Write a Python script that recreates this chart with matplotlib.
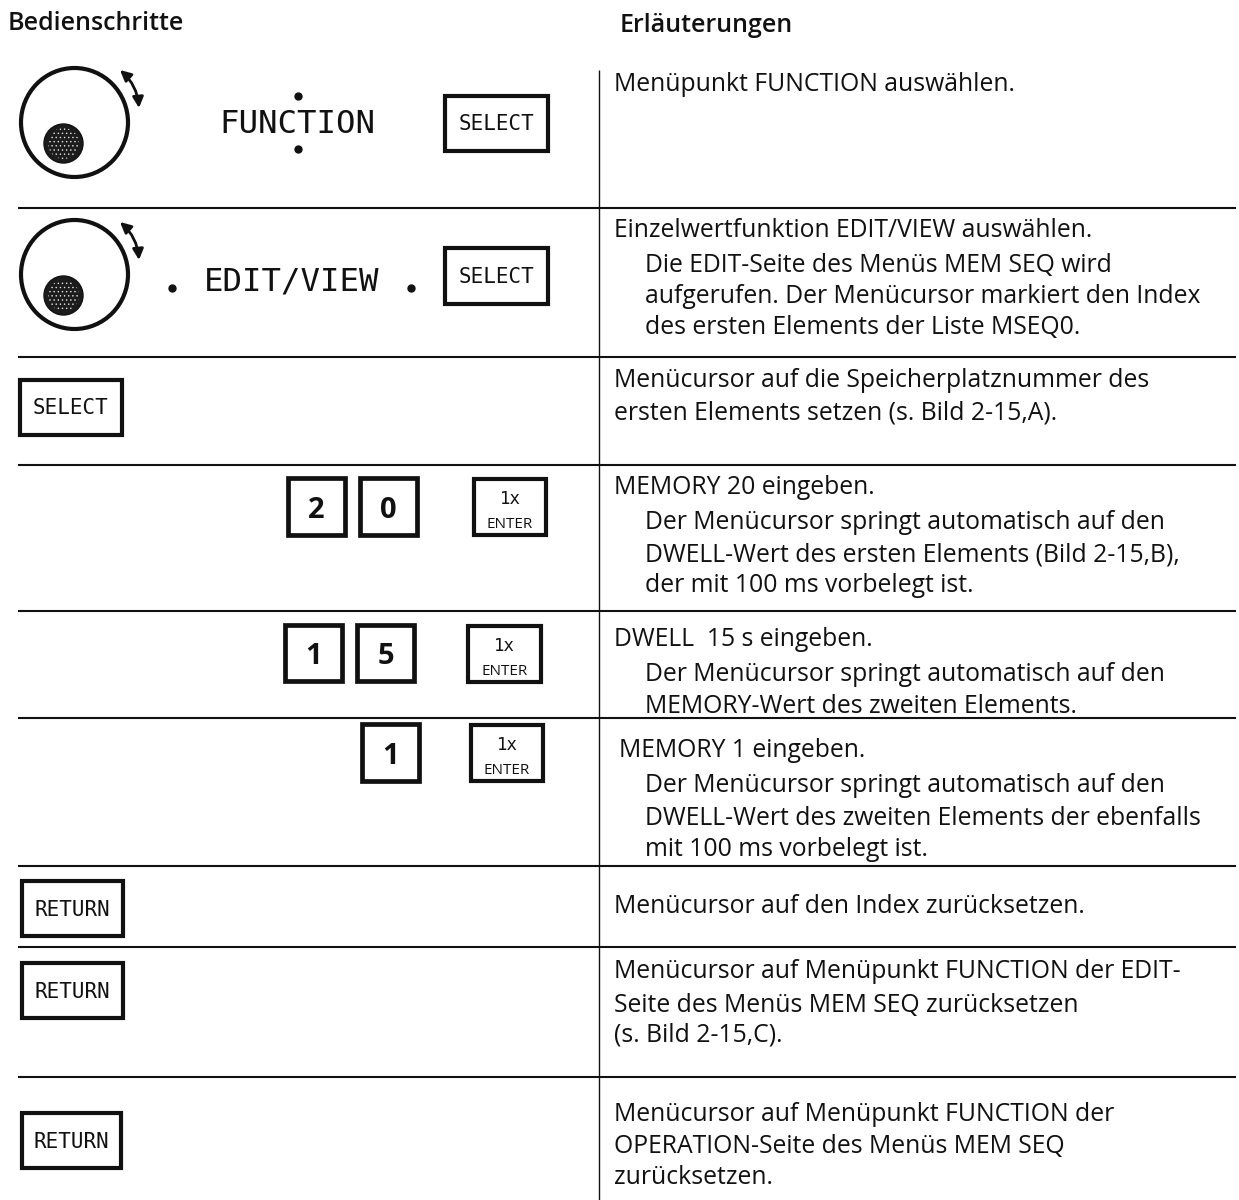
import matplotlib
matplotlib.use("Agg")
import matplotlib.pyplot as plt
from matplotlib.patches import Ellipse, Rectangle

# --- content ---
headers = ["Bedienschritte", "Erläuterungen"]
display_words = ["FUNCTION", "EDIT/VIEW"]
explain_lines = [
    "Menüpunkt FUNCTION auswählen.",
    "Einzelwertfunktion EDIT/VIEW auswählen.",
    "Die EDIT-Seite des Menüs MEM SEQ wird",
    "aufgerufen. Der Menücursor markiert den Index",
    "des ersten Elements der Liste MSEQ0.",
    "Menücursor auf die Speicherplatznummer des",
    "ersten Elements setzen (s. Bild 2-15,A).",
    "MEMORY 20 eingeben.",
    "Der Menücursor springt automatisch auf den",
    "DWELL-Wert des ersten Elements (Bild 2-15,B),",
    "der mit 100 ms vorbelegt ist.",
    "DWELL  15 s eingeben.",
    "Der Menücursor springt automatisch auf den",
    "MEMORY-Wert des zweiten Elements.",
    "MEMORY 1 eingeben.",
    "Der Menücursor springt automatisch auf den",
    "DWELL-Wert des zweiten Elements der ebenfalls",
    "mit 100 ms vorbelegt ist.",
    "Menücursor auf den Index zurücksetzen.",
    "Menücursor auf Menüpunkt FUNCTION der EDIT-",
    "Seite des Menüs MEM SEQ zurücksetzen",
    "(s. Bild 2-15,C).",
    "Menücursor auf Menüpunkt FUNCTION der",
    "OPERATION-Seite des Menüs MEM SEQ",
    "zurücksetzen.",
]

# --- layout, in pixels of the page ---
explain_x = [614, 614, 645, 645, 645, 614, 614, 614, 645, 645, 645, 614, 645, 645,
             619, 645, 645, 645, 614, 614, 614, 614, 614, 614, 614]
explain_base = [91, 237, 272, 303, 334, 387, 419, 494, 529, 561, 592, 646, 681, 713,
                757, 792, 825, 856, 913, 978, 1012, 1042, 1121, 1153, 1184]
rule_y = [208, 357, 465, 611, 718, 866, 947, 1077]
knob_boxes = [(21, 68, 128, 177), (21, 220, 128, 329)]
big_keys = [("SELECT", 445, 96, 548, 151), ("SELECT", 445, 248, 548, 304),
            ("SELECT", 20, 380, 122, 435), ("RETURN", 22, 881, 123, 936),
            ("RETURN", 22, 963, 123, 1018), ("RETURN", 22, 1113, 121, 1168)]
num_keys = [("2", 288, 478, 345, 535), ("0", 360, 478, 417, 535),
            ("1", 285, 625, 342, 681), ("5", 357, 625, 414, 681),
            ("1", 362, 724, 419, 781)]
enter_keys = [(474, 479, 546, 535), (468, 626, 541, 682), (471, 725, 543, 781)]
dot_x = [298, 298, 172, 411]
dot_y = [96, 149, 288, 288]

INK = "#111111"
TEXT_FONT = "Open Sans"
MONO_FONT = "DejaVu Sans Mono"

plt.rcParams["hatch.linewidth"] = 0.5

fig = plt.figure(figsize=(12.39, 12.0), dpi=100)
ax = fig.add_axes([0, 0, 1, 1])
ax.set_xlim(0, 1239)
ax.set_ylim(1200, 0)
ax.axis("off")


def key(x0, y0, x1, y1, lw):
    ax.add_patch(Rectangle((x0, y0), x1 - x0, y1 - y0, fc="white", ec=INK, lw=lw, joinstyle="miter"))


# headers
ax.text(8, 30, headers[0], family=TEXT_FONT, fontsize=18, weight="semibold", color=INK, va="baseline")
ax.text(620, 32, headers[1], family=TEXT_FONT, fontsize=18, weight="semibold", color=INK, va="baseline")

# table rules
for y in rule_y:
    ax.plot([18, 1236], [y, y], color=INK, lw=1.5, solid_capstyle="butt")
ax.plot([599, 599], [70, 1200], color=INK, lw=1.0, solid_capstyle="butt")

# knobs
for x0, y0, x1, y1 in knob_boxes:
    ax.add_patch(Ellipse(((x0 + x1) / 2, (y0 + y1) / 2), x1 - x0, y1 - y0, fc="white", ec=INK, lw=3.0))
    ax.add_patch(Ellipse((63.5, y0 + 75.5), 39, 39, fc="#1c1c1c", ec=INK, lw=1.0))
    ax.add_patch(Ellipse((63.5, y0 + 75.5), 31, 31, fc="#1c1c1c", ec="#e0e0e0", hatch="....", lw=0))
    ax.annotate("", xy=(139, y0 + 40), xytext=(120, y0 + 2),
                arrowprops=dict(arrowstyle="<|-|>", color=INK, lw=2.0, mutation_scale=16,
                                connectionstyle="arc3,rad=-0.2", shrinkA=0, shrinkB=0))

# display words
ax.text(297.5, 133, display_words[0], family=MONO_FONT, fontsize=23.3, color=INK, ha="center", va="baseline")
ax.text(292, 290, display_words[1], family=MONO_FONT, fontsize=23.3, color=INK, ha="center", va="baseline")
ax.plot(dot_x, dot_y, ls="none", marker="o", ms=5, color=INK)

# keys
for label, x0, y0, x1, y1 in big_keys:
    key(x0, y0, x1, y1, 3.0)
    ax.text((x0 + x1) / 2, (y0 + y1) / 2 + 7, label, family=MONO_FONT, fontsize=15, color=INK,
            ha="center", va="baseline")
for label, x0, y0, x1, y1 in num_keys:
    key(x0, y0, x1, y1, 3.4)
    ax.text((x0 + x1) / 2, (y0 + y1) / 2 + 11, label, family=TEXT_FONT, fontsize=21, weight="bold", color=INK,
            ha="center", va="baseline")
for x0, y0, x1, y1 in enter_keys:
    key(x0, y0, x1, y1, 3.0)
    ax.text((x0 + x1) / 2, y0 + 25, "1x", family=MONO_FONT, fontsize=12.5, color=INK, ha="center", va="baseline")
    ax.text((x0 + x1) / 2, y0 + 49, "ENTER", family=TEXT_FONT, fontsize=11, color=INK, ha="center", va="baseline")

# explanations
for line, x, y in zip(explain_lines, explain_x, explain_base):
    ax.text(x, y, line, family=TEXT_FONT, fontsize=17.8, color=INK, ha="left", va="baseline")

fig.savefig("out.png", dpi=100, facecolor="white")
